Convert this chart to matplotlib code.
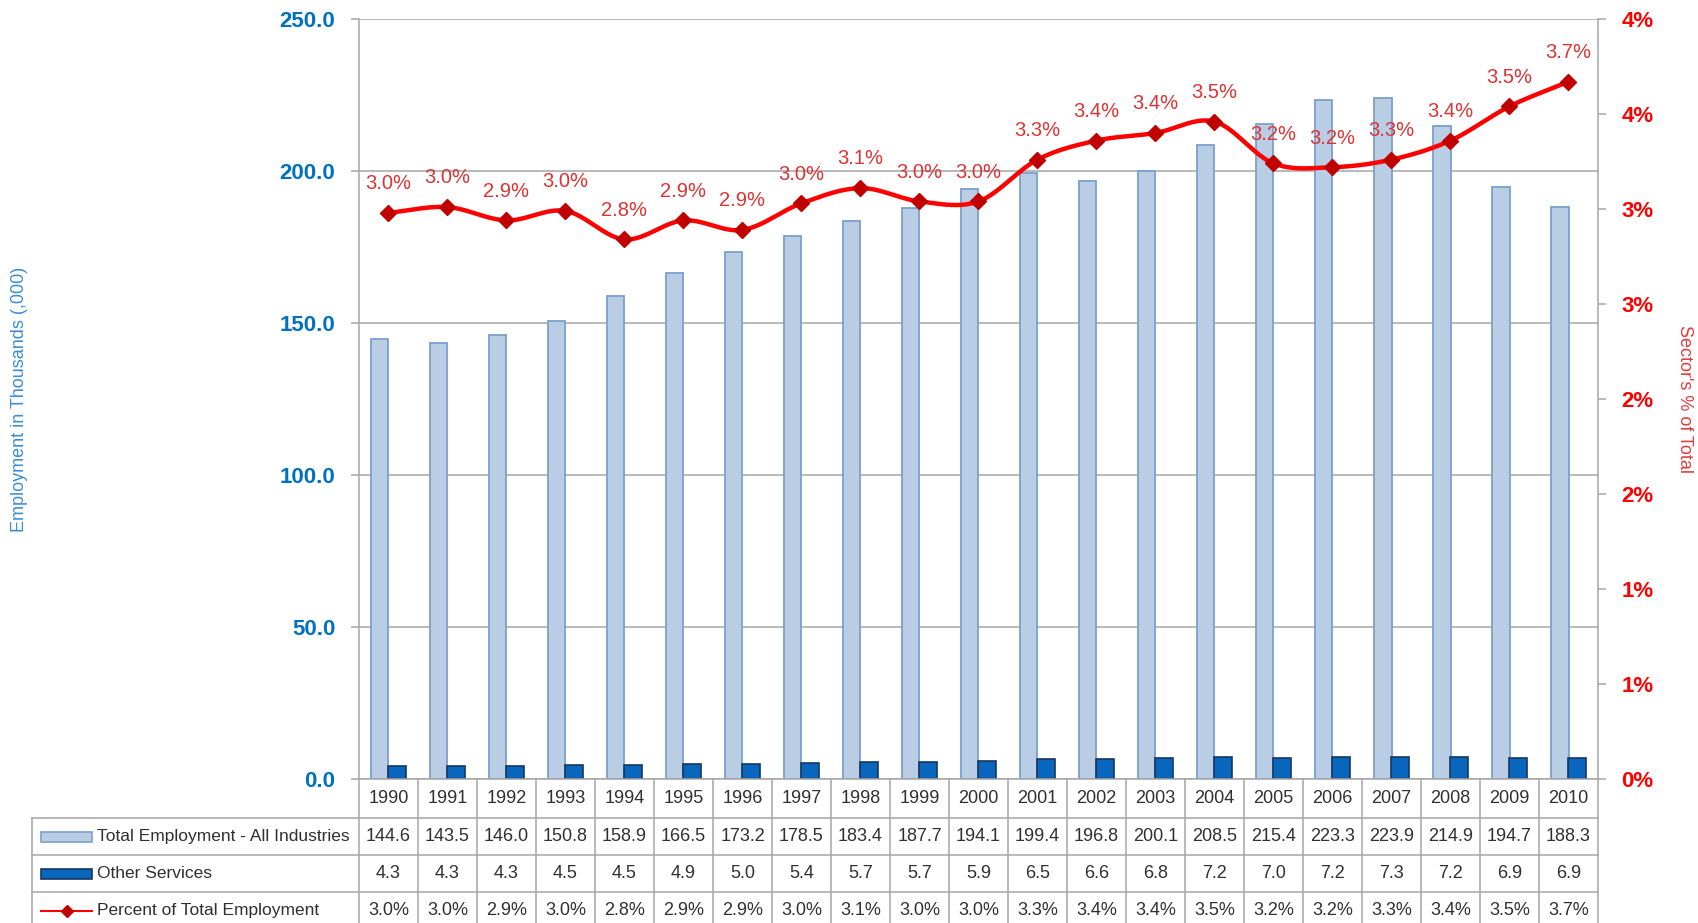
import matplotlib
matplotlib.use("Agg")
import matplotlib.pyplot as plt
import matplotlib.patches as mpatches
from matplotlib import font_manager
import numpy as np

# data
years = [1990, 1991, 1992, 1993, 1994, 1995, 1996, 1997, 1998, 1999, 2000,
         2001, 2002, 2003, 2004, 2005, 2006, 2007, 2008, 2009, 2010]
total_emp = [144.6, 143.5, 146.0, 150.8, 158.9, 166.5, 173.2, 178.5, 183.4, 187.7, 194.1,
             199.4, 196.8, 200.1, 208.5, 215.4, 223.3, 223.9, 214.9, 194.7, 188.3]
other_services = [4.3, 4.3, 4.3, 4.5, 4.5, 4.9, 5.0, 5.4, 5.7, 5.7, 5.9,
                  6.5, 6.6, 6.8, 7.2, 7.0, 7.2, 7.3, 7.2, 6.9, 6.9]
pct_total = [2.98, 3.01, 2.94, 2.99, 2.84, 2.94, 2.89, 3.03, 3.11, 3.04, 3.04,
             3.26, 3.36, 3.40, 3.46, 3.24, 3.22, 3.26, 3.36, 3.54, 3.67]
left_ticks = [0, 50, 100, 150, 200, 250]
right_ticks = [0, 0.5, 1.0, 1.5, 2.0, 2.5, 3.0, 3.5, 4.0]
row_labels = ["Total Employment - All Industries", "Other Services", "Percent of Total Employment"]

# pick a narrow font if there is one, the original text is condensed
names = {f.name for f in font_manager.fontManager.ttflist}
FONT = "Liberation Sans Narrow" if "Liberation Sans Narrow" in names else "Liberation Sans"
plt.rcParams["font.family"] = [FONT, "DejaVu Sans"]

LIGHT, LIGHT_EDGE = "#B9CDE5", "#7BA0CD"
DARK, DARK_EDGE = "#0866BC", "#17375E"
RED, MARKER_RED, LABEL_RED = "#FF0000", "#C00000", "#DD3333"
BLUE = "#0070C0"
GRID = "#A6A6A6"
TXT = "#303030"

W, H = 1699, 923
fig = plt.figure(figsize=(W / 100, H / 100), dpi=100)

# plot area in pixels
L, R, T, B = 359, 1598, 19, 779
ax = fig.add_axes([L / W, 1 - B / H, (R - L) / W, (B - T) / H])
x = np.arange(len(years))

ax.bar(x - 0.15, total_emp, width=0.3, color=LIGHT, edgecolor=LIGHT_EDGE, linewidth=1.3, zorder=2)
ax.bar(x + 0.15, other_services, width=0.3, color=DARK, edgecolor=DARK_EDGE, linewidth=1.2, zorder=2)
ax.set_xlim(-0.5, len(years) - 0.5)
ax.set_ylim(0, 250)
ax.set_yticks(left_ticks)
ax.set_yticklabels([f"{v:.1f}" for v in left_ticks], color=BLUE, fontsize=16, fontweight="bold")
ax.tick_params(axis="y", length=6, width=1.1, color=GRID, pad=11)
ax.set_xticks([])
ax.grid(axis="y", color=GRID, linewidth=1.1, zorder=0)
ax.set_axisbelow(True)
for s in ["top", "right"]:
    ax.spines[s].set_visible(False)
for s in ["left", "bottom"]:
    ax.spines[s].set_color(GRID)
    ax.spines[s].set_linewidth(1.1)
ax.set_ylabel("Employment in Thousands (,000)", color="#3C8DD6", fontsize=13, va="center")
ax.yaxis.set_label_coords(-(L - 20) / (R - L), 0.5)

# secondary axis with the smoothed percent line
ax2 = ax.twinx()
ax2.set_ylim(0, 4.0)
ax2.set_yticks(right_ticks)
ax2.set_yticklabels([f"{int(np.floor(v + 0.5))}%" for v in right_ticks], color=RED,
                    fontsize=16, fontweight="bold")
ax2.tick_params(axis="y", length=6, width=1.1, color=GRID, pad=11)
for s in ["top", "left", "bottom"]:
    ax2.spines[s].set_visible(False)
ax2.spines["right"].set_color(GRID)
ax2.spines["right"].set_linewidth(1.1)
ax2.set_ylabel("Sector's % of Total", color="#E03C3C", fontsize=13, rotation=270, va="center")
ax2.yaxis.set_label_coords(1 + (1685 - R) / (R - L), 0.5)

# Excel style smoothing (Catmull-Rom through the points)
p = np.array(pct_total)
pp = np.concatenate([[2 * p[0] - p[1]], p, [2 * p[-1] - p[-2]]])
xs, ys = [], []
t = np.linspace(0, 1, 25)
for i in range(len(p) - 1):
    p0, p1, p2, p3 = pp[i], pp[i + 1], pp[i + 2], pp[i + 3]
    yy = 0.5 * (2 * p1 + (-p0 + p2) * t + (2 * p0 - 5 * p1 + 4 * p2 - p3) * t ** 2
                + (-p0 + 3 * p1 - 3 * p2 + p3) * t ** 3)
    xs.extend(i + t)
    ys.extend(yy)
ax2.plot(xs, ys, color=RED, linewidth=3.2, solid_capstyle="round", zorder=3)
ax2.plot(x, pct_total, linestyle="None", marker="D", markersize=8.5, color=MARKER_RED, zorder=4)
for xi, v in zip(x, pct_total):
    ax2.annotate(f"{v:.1f}%", (xi, v), xytext=(0, 21), textcoords="offset points",
                 ha="center", va="center", color=LABEL_RED, fontsize=14.5)

# data table under the chart
cat_px = (R - L) / len(years)
TL = 32
tax = fig.add_axes([TL / W, 0, (R - TL) / W, (H - B) / H])
tax.set_xlim(-0.5 - (L - TL) / cat_px, len(years) - 0.5)
tax.set_ylim(H, B)
tax.axis("off")


def px2cat(px):
    return -0.5 + (px - L) / cat_px


rows = [B, 818, 855, 892, 929]
x_left = px2cat(TL)
for yb in rows[1:]:
    tax.plot([x_left, len(years) - 0.5], [yb, yb], color=GRID, lw=1.1, clip_on=False)
for xb in np.arange(-0.5, len(years)):
    tax.plot([xb, xb], [B, rows[-1]], color=GRID, lw=1.1, clip_on=False)
tax.plot([x_left, x_left], [rows[1], rows[-1]], color=GRID, lw=1.1, clip_on=False)

mid = [(rows[i] + rows[i + 1]) / 2 for i in range(4)]
for xi, yr in zip(x, years):
    tax.text(xi, mid[0], str(yr), ha="center", va="center", fontsize=13, color=TXT)
for xi, a, b, c in zip(x, total_emp, other_services, pct_total):
    tax.text(xi, mid[1], f"{a:.1f}", ha="center", va="center", fontsize=13, color=TXT)
    tax.text(xi, mid[2], f"{b:.1f}", ha="center", va="center", fontsize=13, color=TXT)
    tax.text(xi, mid[3], f"{c:.1f}%", ha="center", va="center", fontsize=13, color=TXT, clip_on=False)

# legend keys in the label column
k0, k1 = px2cat(41), px2cat(92)
tax.add_patch(mpatches.Rectangle((k0, mid[1] - 5), k1 - k0, 10, facecolor=LIGHT, edgecolor=LIGHT_EDGE, lw=1.2))
tax.add_patch(mpatches.Rectangle((k0, mid[2] - 5), k1 - k0, 10, facecolor=DARK, edgecolor=DARK_EDGE, lw=1.2))
tax.plot([k0, k1], [mid[3], mid[3]], color=RED, lw=1.5, clip_on=False)
tax.plot([(k0 + k1) / 2], [mid[3]], marker="D", markersize=6, color=MARKER_RED, clip_on=False)
for r, lab in enumerate(row_labels):
    tax.text(px2cat(97), mid[r + 1], lab, ha="left", va="center", fontsize=12.5, color=TXT, clip_on=False)

fig.savefig("out.png", dpi=100, facecolor="white")
